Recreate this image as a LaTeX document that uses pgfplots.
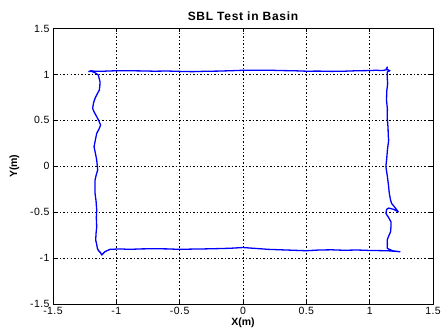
\documentclass[border=0pt]{standalone}
\usepackage{fontspec}
\setmainfont{Liberation Sans}
\usepackage{pgfplots}
\pgfplotsset{compat=1.18}
\begin{document}
\begin{tikzpicture}[x=1pt,y=1pt]
\begin{axis}[
  name=ax,
  scale only axis,
  width=380pt, height=275.5pt,
  xmin=-1.5, xmax=1.5, ymin=-1.5, ymax=1.5,
  xtick={-1.5,-1,-0.5,0,0.5,1,1.5},
  ytick={-1.5,-1,-0.5,0,0.5,1,1.5},
  xticklabels={-1.5,-1,-0.5,0,0.5,1,1.5},
  yticklabels={-1.5,-1,-0.5,0,0.5,1,1.5},
  tick align=inside,
  major tick length=4pt,
  tick style={black, line width=0.5pt},
  axis line style={black, line width=0.6pt},
  grid=major,
  major grid style={black, line width=0.5pt, dash pattern=on 1.5pt off 2pt},
  ticklabel style={font=\fontsize{10.5}{12}\selectfont\addfontfeatures{LetterSpace=4}, text=black},
  title={\fontsize{12}{14}\selectfont\bfseries\addfontfeatures{LetterSpace=6}SBL Test in Basin},
  title style={yshift=-2pt},
  xlabel={\fontsize{10.5}{12}\selectfont\bfseries X(m)},
  ylabel={\fontsize{10.5}{12}\selectfont\bfseries Y(m)},
  xlabel style={yshift=4pt},
  ylabel style={yshift=4pt},
]
\addplot[color={rgb,255:red,0;green,0;blue,255}, line width=1.3pt, line join=round] coordinates {
(-1.22,1.03) (-1.2,1.04) (-1.17,1.035) (-1.1,1.035) (-1.0,1.04) (-0.9,1.04) (-0.8,1.038) (-0.7,1.035) (-0.6,1.037) (-0.5,1.033) (-0.4,1.03) (-0.3,1.034) (-0.2,1.036) (-0.1,1.04) (0.0,1.045) (0.1,1.045) (0.2,1.046) (0.3,1.042) (0.4,1.04) (0.5,1.035) (0.6,1.036) (0.7,1.033) (0.8,1.035) (0.9,1.04) (1.0,1.042) (1.05,1.045) (1.1,1.042) (1.13,1.05) (1.14,1.08) (1.13,1.06) (1.16,1.04) (1.14,1.03)
(1.138,0.98) (1.142,0.90) (1.135,0.82) (1.133,0.72) (1.14,0.62) (1.138,0.54) (1.145,0.42) (1.147,0.33) (1.15,0.285) (1.14,0.176) (1.135,0.09) (1.128,0.0) (1.133,-0.05) (1.14,-0.114) (1.148,-0.2) (1.155,-0.295) (1.165,-0.37) (1.173,-0.404) (1.2,-0.45) (1.226,-0.496) (1.19,-0.47) (1.15,-0.455) (1.134,-0.47) (1.128,-0.513) (1.15,-0.56) (1.168,-0.605) (1.168,-0.66) (1.165,-0.714) (1.15,-0.76) (1.138,-0.804) (1.14,-0.85) (1.138,-0.894) (1.18,-0.92) (1.239,-0.931) (1.19,-0.925) (1.14,-0.92)
(1.0,-0.917) (0.9,-0.912) (0.8,-0.915) (0.7,-0.91) (0.6,-0.912) (0.5,-0.92) (0.4,-0.915) (0.3,-0.91) (0.2,-0.905) (0.1,-0.895) (0.0,-0.885) (-0.1,-0.893) (-0.2,-0.897) (-0.3,-0.9) (-0.4,-0.902) (-0.5,-0.905) (-0.6,-0.9) (-0.7,-0.898) (-0.8,-0.9) (-0.9,-0.905) (-0.97,-0.9) (-1.05,-0.905) (-1.09,-0.93) (-1.116,-0.967) (-1.125,-0.94) (-1.14,-0.92) (-1.15,-0.894)
(-1.155,-0.85) (-1.163,-0.804) (-1.16,-0.73) (-1.155,-0.659) (-1.158,-0.56) (-1.155,-0.477) (-1.16,-0.38) (-1.168,-0.295) (-1.168,-0.22) (-1.168,-0.15) (-1.158,-0.09) (-1.147,-0.04) (-1.155,0.068) (-1.165,0.14) (-1.176,0.212) (-1.165,0.29) (-1.155,0.358) (-1.135,0.41) (-1.124,0.449) (-1.14,0.5) (-1.155,0.54) (-1.175,0.59) (-1.187,0.63) (-1.18,0.69) (-1.168,0.74) (-1.15,0.79) (-1.134,0.83) (-1.13,0.88) (-1.129,0.92) (-1.142,0.993) (-1.17,1.02) (-1.2,1.035) (-1.22,1.03)
};
\end{axis}
\pgfresetboundingbox
\path ([shift={(-53pt,-32pt)}]ax.south west) rectangle ([shift={(10pt,28.5pt)}]ax.north east);
\end{tikzpicture}
\end{document}
